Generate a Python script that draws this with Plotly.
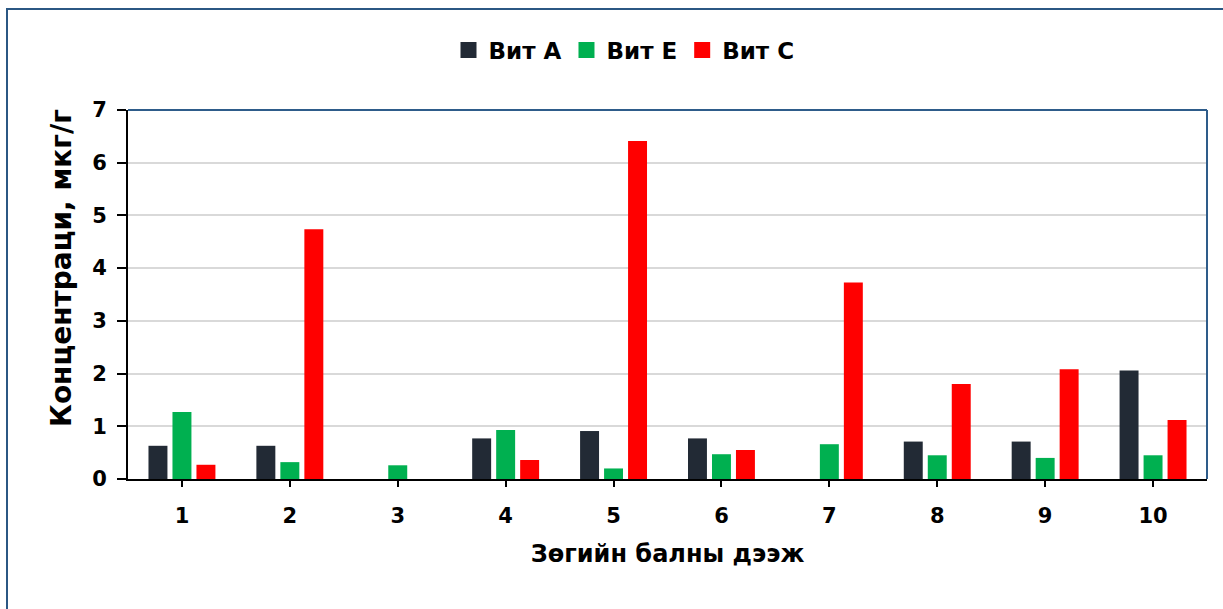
import plotly.graph_objects as go

# Honey samples and vitamin concentrations (mkg/g)
samples = ["1", "2", "3", "4", "5", "6", "7", "8", "9", "10"]
vit_a = [0.63, 0.63, 0.0, 0.77, 0.91, 0.77, 0.0, 0.71, 0.71, 2.06]
vit_e = [1.27, 0.32, 0.26, 0.93, 0.20, 0.47, 0.66, 0.45, 0.40, 0.45]
vit_c = [0.27, 4.74, 0.0, 0.36, 6.41, 0.55, 3.73, 1.80, 2.08, 1.12]

series_names = ["Вит А", "Вит Е", "Вит С"]
series_colors = ["#222A35", "#00B050", "#FF0000"]
y_ticks = [0, 1, 2, 3, 4, 5, 6, 7]

FONT = "DejaVu Sans, sans-serif"
W, H = 1223, 609
ML, MR, MT, MB = 128, 16, 110, 130
PW, PH = W - ML - MR, H - MT - MB


def px_to_paper_x(px):
    return (px - ML) / PW


def px_to_paper_y(py):
    return (H - MB - py) / PH


fig = go.Figure()
for name, vals, col in zip(series_names, [vit_a, vit_e, vit_c], series_colors):
    fig.add_trace(go.Bar(
        name=name, x=samples, y=vals, showlegend=False, legendgroup=name,
        marker=dict(color=col, line=dict(width=0)),
    ))
# square legend keys
for name, col in zip(series_names, series_colors):
    fig.add_trace(go.Scatter(
        name=name, x=[None], y=[None], mode="markers", legendgroup=name,
        marker=dict(symbol="square", size=16, color=col, line=dict(width=0)),
        hoverinfo="skip",
    ))

fig.update_layout(
    width=W, height=H,
    margin=dict(l=ML, r=MR, t=MT, b=MB, pad=0),
    paper_bgcolor="white", plot_bgcolor="white",
    barmode="group", bargap=0.333, bargroupgap=0.21,
    font=dict(family=FONT, size=21, color="black"),
    showlegend=True,
    legend=dict(
        orientation="h",
        x=px_to_paper_x(624), xanchor="center",
        y=px_to_paper_y(50), yanchor="middle",
        font=dict(family=FONT, size=23, color="black", weight="bold"),
        bgcolor="rgba(0,0,0,0)",
        itemwidth=30,
        traceorder="normal",
    ),
    xaxis=dict(
        type="category",
        showline=True, linecolor="black", linewidth=2,
        ticks="outside", ticklen=6, tickwidth=2, tickcolor="black",
        tickfont=dict(family=FONT, size=21, color="black", weight="bold"),
        ticklabelstandoff=11,
        showgrid=False,
        title=dict(text="Зөгийн балны дээж",
                   font=dict(family=FONT, size=24, color="black", weight="bold"),
                   standoff=18),
    ),
    yaxis=dict(
        range=[0, 7],
        tickvals=y_ticks,
        showline=True, linecolor="black", linewidth=2,
        ticks="outside", ticklen=9, tickwidth=2, tickcolor="black",
        tickfont=dict(family=FONT, size=21, color="black", weight="bold"),
        ticklabelstandoff=6,
        showgrid=True, gridcolor="#D9D9D9", gridwidth=2,
        zeroline=False,
    ),
    annotations=[dict(
        text="Концентраци, мкг/г",
        xref="paper", yref="paper",
        x=px_to_paper_x(61), y=px_to_paper_y(268),
        xanchor="center", yanchor="middle",
        textangle=-90, showarrow=False,
        font=dict(family=FONT, size=28, color="black", weight="bold"),
    )],
    shapes=[
        # top and right frame of the plotting area
        dict(type="line", xref="paper", yref="paper", x0=0, x1=1, y0=1, y1=1,
             line=dict(color="#2E5C8A", width=2), layer="above"),
        dict(type="line", xref="paper", yref="paper", x0=1, x1=1, y0=0, y1=1,
             line=dict(color="#2E5C8A", width=2), layer="above"),
        # outer chart border
        dict(type="rect", xref="paper", yref="paper",
             x0=px_to_paper_x(7), x1=px_to_paper_x(W + 20),
             y0=px_to_paper_y(H + 20), y1=px_to_paper_y(9),
             line=dict(color="#2B5783", width=2), layer="above"),
    ],
)

fig.write_html("out.html")
